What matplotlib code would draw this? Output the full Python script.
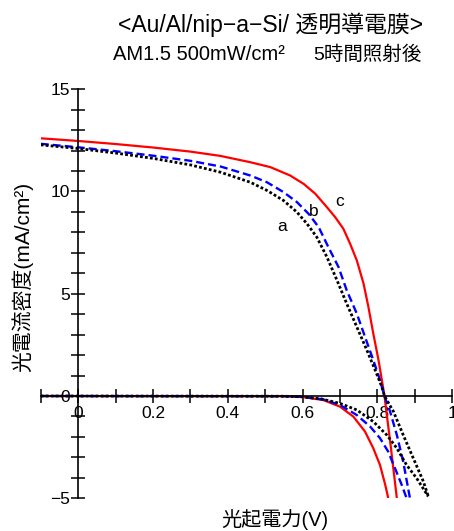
import matplotlib
matplotlib.use("Agg")
import matplotlib.pyplot as plt
from matplotlib.ticker import MultipleLocator, FixedLocator

plt.rcParams['font.family'] = ['Liberation Sans', 'Noto Sans CJK JP', 'DejaVu Sans']

# light I-V curves (voltage V, current density mA/cm2)
a_light_v = [-0.1, 0.0, 0.1, 0.2, 0.3, 0.381, 0.4605, 0.505, 0.549, 0.585, 0.612, 0.638, 0.665, 0.692, 0.718, 0.745, 0.772, 0.794, 0.812, 0.819,
             0.843, 0.869, 0.896, 0.923, 0.936]
a_light_j = [12.28, 12.1, 11.88, 11.62, 11.3, 10.94, 10.45, 10.05, 9.56, 8.99, 8.42, 7.77, 6.80, 5.66, 4.52, 3.38, 2.24, 1.27, 0.45, 0.0,
             -0.76, -1.9, -3.04, -4.18, -4.9]
b_light_v = [-0.1, 0.0, 0.1, 0.2, 0.3, 0.381, 0.4605, 0.505, 0.549, 0.585, 0.616, 0.643, 0.669, 0.696, 0.718, 0.745, 0.767, 0.789, 0.807, 0.819,
             0.834, 0.852, 0.869, 0.887]
b_light_j = [12.33, 12.16, 11.97, 11.75, 11.5, 11.22, 10.78, 10.45, 9.97, 9.48, 8.91, 8.26, 7.28, 6.31, 5.17, 4.03, 2.89, 1.76, 0.78, 0.0,
             -0.76, -1.9, -3.2, -4.99]
c_light_v = [-0.1, 0.0, 0.1, 0.2, 0.3, 0.38, 0.4605, 0.514, 0.567, 0.603, 0.634, 0.661, 0.687, 0.709, 0.727, 0.745, 0.763, 0.776, 0.789, 0.803,
             0.812, 0.819, 0.836, 0.852]
c_light_j = [12.6, 12.47, 12.32, 12.15, 11.95, 11.74, 11.43, 11.19, 10.78, 10.37, 9.89, 9.32, 8.75, 8.18, 7.45, 6.63, 5.50, 4.36, 3.06, 1.76,
             0.78, 0.0, -2.5, -4.99]

# dark I-V curves
a_dark_v = [-0.1, 0.55, 0.6, 0.65, 0.7, 0.745, 0.789, 0.825, 0.852, 0.878, 0.905, 0.936]
a_dark_j = [0.0, -0.01, -0.04, -0.14, -0.36, -0.68, -1.25, -1.9, -2.55, -3.37, -4.02, -4.91]
b_dark_v = [-0.1, 0.55, 0.6, 0.656, 0.7, 0.745, 0.781, 0.807, 0.829, 0.847, 0.865, 0.878]
b_dark_j = [0.0, -0.01, -0.04, -0.17, -0.44, -0.93, -1.5, -2.06, -2.72, -3.53, -4.34, -4.99]
c_dark_v = [-0.1, 0.55, 0.6, 0.656, 0.7, 0.736, 0.767, 0.789, 0.807, 0.821, 0.829]
c_dark_j = [0.0, -0.01, -0.05, -0.2, -0.52, -1.01, -1.74, -2.55, -3.37, -4.34, -4.99]

x_ticks = [0, 0.2, 0.4, 0.6, 0.8, 1.0]
x_ticklabels = ['0', '0.2', '0.4', '0.6', '0.8', '1']
y_ticks = [-5, 0, 5, 10, 15]
y_ticklabels = ['\u22125', '0', '5', '10', '15']

fig = plt.figure(figsize=(4.54, 5.31), dpi=100)
ax = fig.add_axes([0.0897, 0.0616, 0.9063, 0.7704])

ax.plot(c_light_v, c_light_j, color='#ff0000', lw=1.6)
ax.plot(c_dark_v, c_dark_j, color='#ff0000', lw=1.6)
ax.plot(b_light_v, b_light_j, color='#0000ff', lw=1.7, dashes=(3.4, 1.7))
ax.plot(b_dark_v, b_dark_j, color='#0000ff', lw=1.7, dashes=(3.4, 1.7))
ax.plot(a_light_v, a_light_j, color='black', lw=2.0, dashes=(1.0, 0.8))
ax.plot(a_dark_v, a_dark_j, color='black', lw=2.0, dashes=(1.0, 0.8))

ax.set_xlim(-0.1, 1.0)
ax.set_ylim(-5, 15)
ax.spines['left'].set_position(('data', 0))
ax.spines['bottom'].set_position(('data', 0))
ax.spines['top'].set_visible(False)
ax.spines['right'].set_visible(False)
for s in ('left', 'bottom'):
    ax.spines[s].set_linewidth(1.2)

ax.xaxis.set_major_locator(FixedLocator(x_ticks))
ax.set_xticklabels(x_ticklabels)
ax.xaxis.set_minor_locator(FixedLocator([-0.1, 0.1, 0.3, 0.5, 0.7, 0.9]))
ax.yaxis.set_major_locator(FixedLocator(y_ticks))
ax.set_yticklabels(y_ticklabels)
ax.yaxis.set_minor_locator(MultipleLocator(1))
ax.tick_params(which='both', direction='inout', length=10, width=1.1, labelsize=12.5, pad=1)
ax.tick_params(axis='x', pad=2)

ax.text(0.545, 8.3, 'a', fontsize=12.5, ha='center', va='center')
ax.text(0.63, 9.0, 'b', fontsize=12.5, ha='center', va='center')
ax.text(0.70, 9.5, 'c', fontsize=12.5, ha='center', va='center')

fig.text(0.595, 0.953, '<Au/Al/nip\u2212a\u2212Si/ 透明導電膜>', fontsize=16.5, ha='center', va='center')
fig.text(113 / 454, 0.897, 'AM1.5 500mW/cm²', fontsize=14.5, ha='left', va='center')
fig.text(313 / 454, 0.897, '5時間照射後', fontsize=14, ha='left', va='center')
fig.text(0.05, 0.479, '光電流密度(mA/cm²)', fontsize=15, rotation=90, ha='center', va='center')
fig.text(0.606, 0.0207, '光起電力(V)', fontsize=14.5, ha='center', va='center')

fig.savefig('out.png', dpi=100)
